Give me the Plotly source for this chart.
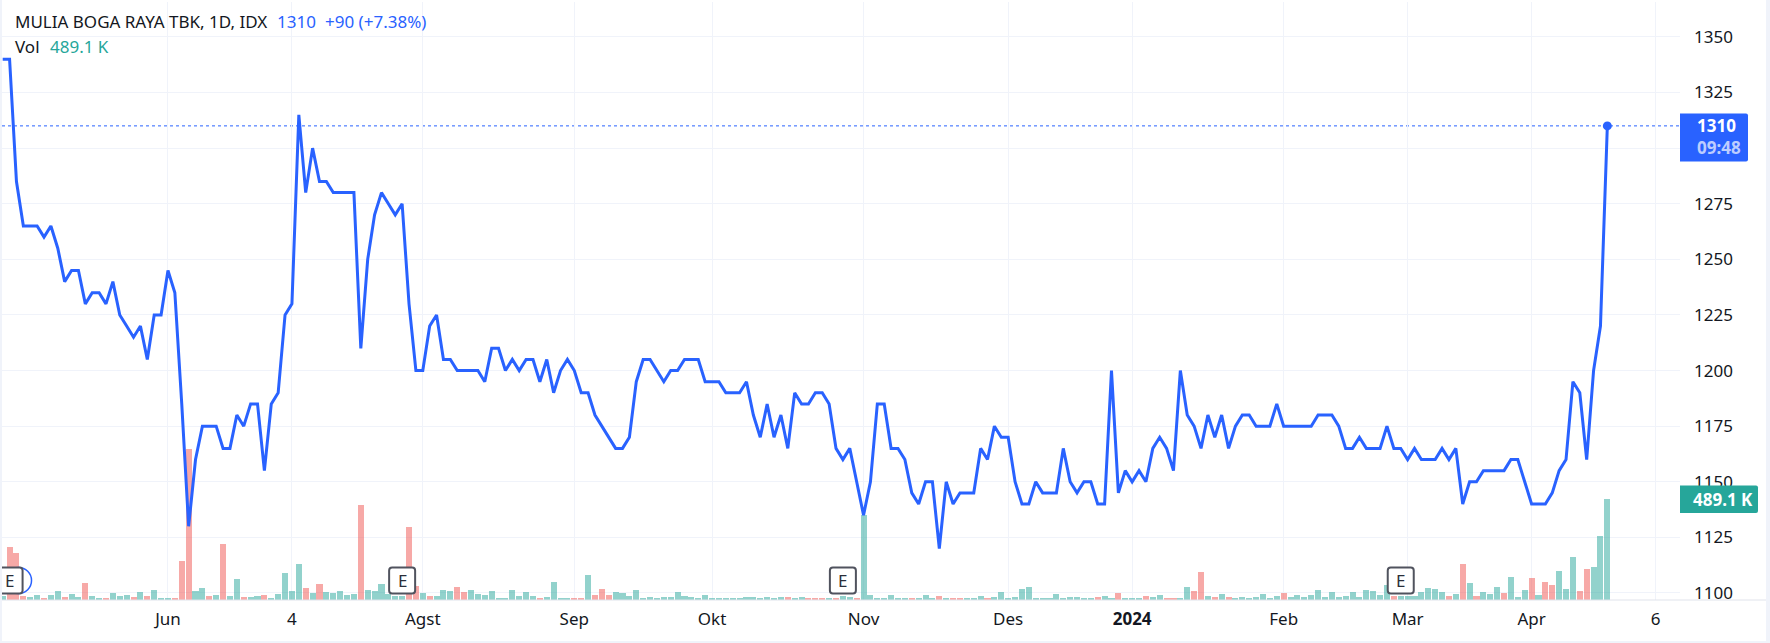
import plotly.graph_objects as go

close = [
    1340,1340,1285,1265,1265,1265,1260,1265,1255,1240,1245,1245,1230,1235,1235,1230,1240,1225,1220,1215,1220,1205,1225,1225,1245,1235,1185,1130,1160,1175,1175,1175,1165,1165,
    1180,1175,1185,1185,1155,1185,1190,1225,1230,1315,1280,1300,1285,1285,1280,1280,1280,1280,1210,1250,1270,1280,1275,1270,1275,1230,1200,1200,1220,1225,1205,1205,1200,
    1200,1200,1200,1195,1210,1210,1200,1205,1200,1205,1205,1195,1205,1190,1200,1205,1200,1190,1190,1180,1175,1170,1165,1165,1170,1195,1205,1205,1200,1195,1200,1200,1205,1205,
    1205,1195,1195,1195,1190,1190,1190,1195,1180,1170,1185,1170,1180,1165,1190,1185,1185,1190,1190,1185,1165,1160,1165,1150,1135,1150,1185,1185,1165,1165,1160,1145,1140,
    1150,1150,1120,1150,1140,1145,1145,1145,1165,1160,1175,1170,1170,1150,1140,1140,1150,1145,1145,1145,1165,1150,1145,1150,1150,1140,1140,1200,1145,1155,1150,1155,1150,
    1165,1170,1165,1155,1200,1180,1175,1165,1180,1170,1180,1165,1175,1180,1180,1175,1175,1175,1185,1175,1175,1175,1175,1175,1180,1180,1180,1175,1165,1165,1170,1165,1165,
    1165,1175,1165,1165,1160,1165,1160,1160,1160,1165,1160,1165,1140,1150,1150,1155,1155,1155,1155,1160,1160,1150,1140,1140,1140,1145,1155,1160,1195,1190,1160,1200,1220,1310,
]
volume_k = [
    18,259,230,18,15,24,10,24,44,15,29,15,83,20,10,10,34,20,24,15,39,20,49,10,10,10,191,733,44,59,
    20,24,269,20,103,15,15,20,24,10,29,132,44,176,59,34,78,39,34,44,24,29,460,49,44,78,29,20,20,352,
    67,34,20,20,49,44,64,39,49,29,24,44,10,10,49,20,39,20,10,15,88,10,10,10,10,122,24,54,24,39,
    34,20,49,10,15,10,15,15,39,20,15,10,24,10,10,10,10,10,15,15,10,15,10,15,15,10,15,10,10,10,
    10,10,20,15,10,412,24,10,10,24,10,10,10,10,24,10,20,10,10,10,10,10,20,10,15,39,10,15,54,64,
    10,10,10,29,10,15,15,10,10,15,20,10,34,10,10,10,20,15,24,10,10,10,64,44,137,20,15,29,15,10,
    15,10,15,29,10,20,34,15,24,15,24,49,15,39,15,20,39,15,49,44,24,73,20,20,20,20,39,59,54,39,
    20,29,176,83,20,39,29,64,34,112,15,49,108,24,88,73,142,54,210,44,152,161,308,489.1,
]
down_bars = [1,2,3,6,9,12,15,19,21,25,26,27,30,32,35,38,44,46,52,59,60,62,66,67,78,83,84,86,87,88,
             114,117,118,119,121,124,132,136,138,139,143,159,162,166,169,170,173,174,176,178,186,
             202,210,212,214,218,222,224,225,229,230]
tick_index = [24, 42, 61, 83, 103, 125, 146, 164, 186, 204, 222, 240]
tick_labels = ["Jun", "4", "Agst", "Sep", "Okt", "Nov", "Des", "<b>2024</b>", "Feb", "Mar", "Apr", "6"]
price_ticks = [1100, 1125, 1150, 1175, 1200, 1225, 1250, 1275, 1300, 1325, 1350]
price_tick_labels = ["1100", "1125", "1150", "1175", "1200", "1225", "1250", "1275", "", "1325", "1350"]
earnings_index = [1, 58, 122, 203]

W, H = 1770, 643
L, R, T, B = 2, 90, 2, 43
FONT = "Noto Sans"
BLUE = "#2962FF"
TEAL = "#26a69a"
TEXT = "#131722"
GRID = "#f0f3fa"
SIZE = 17


def fx(px):
    return (px - L) / (W - L - R)


def fy(py):
    return (H - B - py) / (H - T - B)


def rounded(w, h, r):
    a, b = w / 2, h / 2
    return (f"M {-a+r} {-b} L {a-r} {-b} Q {a} {-b} {a} {-b+r} L {a} {b-r} Q {a} {b} {a-r} {b} "
            f"L {-a+r} {b} Q {-a} {b} {-a} {b-r} L {-a} {-b+r} Q {-a} {-b} {-a+r} {-b} Z")


def box(x0, x1, y0, y1, color):
    r = 2
    return dict(type="path", xref="paper", yref="paper", xsizemode="pixel", ysizemode="pixel",
                xanchor=0, yanchor=fy(0), path=f"M {x0-L} {-y0} L {x1-L-r} {-y0} Q {x1-L} {-y0} {x1-L} {-y0-r} "
                f"L {x1-L} {-y1+r} Q {x1-L} {-y1} {x1-L-r} {-y1} L {x0-L} {-y1} Z",
                fillcolor=color, line=dict(width=0), layer="above")


def label(px, py, text, color=TEXT, size=SIZE, anchor="left"):
    return dict(xref="paper", yref="paper", x=fx(px), y=fy(py), text=text, showarrow=False,
                xanchor=anchor, yanchor="middle", align="left",
                font=dict(family=FONT, size=size, color=color))


x_index = list(range(len(close)))
bar_colors = ["rgba(239,83,80,0.5)" if i in down_bars else "rgba(38,166,154,0.5)" for i in x_index]

fig = go.Figure()
fig.add_trace(go.Bar(x=x_index, y=volume_k, width=0.88, marker=dict(color=bar_colors, line=dict(width=0)),
                     yaxis="y", hoverinfo="skip"))
fig.add_trace(go.Scatter(x=x_index, y=close, mode="lines", line=dict(color=BLUE, width=3, shape="linear"),
                         yaxis="y2", hoverinfo="skip"))
fig.add_trace(go.Scatter(x=[x_index[-1]], y=[close[-1]], mode="markers", marker=dict(color=BLUE, size=9),
                         yaxis="y2", hoverinfo="skip"))

shapes = [dict(type="line", xref="paper", yref="y2", x0=0, x1=1, y0=close[-1], y1=close[-1],
               line=dict(color=BLUE, width=1, dash="dot"), layer="below")]
# circular marker behind the first earnings flag
shapes.append(dict(type="circle", xref="x", yref="paper", xsizemode="pixel", ysizemode="pixel",
                   xanchor=2.3, yanchor=fy(580.5), x0=-13, x1=13, y0=-13, y1=13,
                   fillcolor="white", line=dict(color=BLUE, width=1.5), layer="above"))
for i in earnings_index:
    shapes.append(dict(type="path", xref="x", yref="paper", xsizemode="pixel", ysizemode="pixel",
                       xanchor=i, yanchor=fy(580.5), path=rounded(26, 26, 3), fillcolor="white",
                       line=dict(color="#50535e", width=2), layer="above"))
# page frame and axis rule
frame = "#f0f3fa"
shapes += [
    dict(type="rect", xref="paper", yref="paper", x0=fx(0), x1=fx(2), y0=fy(H), y1=fy(0),
         fillcolor=frame, line=dict(width=0), layer="above"),
    dict(type="rect", xref="paper", yref="paper", x0=fx(0), x1=fx(W), y0=fy(H), y1=fy(641),
         fillcolor=frame, line=dict(width=0), layer="above"),
    dict(type="rect", xref="paper", yref="paper", x0=fx(1766), x1=fx(W), y0=fy(H), y1=fy(0),
         fillcolor=frame, line=dict(width=0), layer="above"),
    dict(type="line", xref="paper", yref="paper", x0=0, x1=fx(1766), y0=0, y1=0,
         line=dict(color="#e0e3eb", width=1), layer="above"),
    box(1680, 1748, 113.5, 161.5, BLUE),
    box(1680, 1758, 485.5, 513, TEAL),
]

annotations = [
    label(13, 21.5, "MULIA BOGA RAYA TBK, 1D, IDX"),
    label(275, 21.5, "1310", BLUE),
    label(323, 21.5, "+90 (+7.38%)", BLUE),
    label(13, 47, "Vol"),
    label(48, 47, "489.1 K", TEAL),
    label(1695, 126, "<b>1310</b>", "white"),
    label(1695, 148, "<b>09:48</b>", "rgba(255,255,255,0.7)"),
    label(1691, 499, "<b>489.1 K</b>", "white"),
]
for i in earnings_index:
    annotations.append(dict(xref="x", yref="paper", x=i, y=fy(580.5), text="E", showarrow=False,
                            xanchor="center", yanchor="middle",
                            font=dict(family=FONT, size=SIZE, color="#2a2e39")))

fig.update_layout(
    width=W, height=H, margin=dict(l=L, r=R, t=T, b=B, autoexpand=False),
    paper_bgcolor="white", plot_bgcolor="white", showlegend=False, bargap=0,
    font=dict(family=FONT, size=SIZE, color=TEXT),
    xaxis=dict(range=[-0.1, 243.55], tickmode="array", tickvals=tick_index, ticktext=tick_labels,
               showgrid=True, gridcolor=GRID, gridwidth=1, zeroline=False, showline=False, ticks="",
               ticklabelstandoff=7, tickangle=0, tickfont=dict(family=FONT, size=SIZE, color=TEXT)),
    yaxis=dict(range=[0, 2896], visible=False, fixedrange=True),
    yaxis2=dict(range=[1096.85, 1365.7], overlaying="y", side="right", anchor="x", tickmode="array",
                tickvals=price_ticks, ticktext=price_tick_labels,
                showgrid=True, gridcolor=GRID, gridwidth=1, zeroline=False, showline=False, ticks="",
                ticklabelstandoff=13, tickfont=dict(family=FONT, size=SIZE, color=TEXT)),
    shapes=shapes, annotations=annotations,
)

assert len(close) == len(volume_k) == 234
fig.write_html("out.html", config=dict(displayModeBar=False),
               post_script="document.body.style.margin='0';document.documentElement.style.overflow='hidden';")
